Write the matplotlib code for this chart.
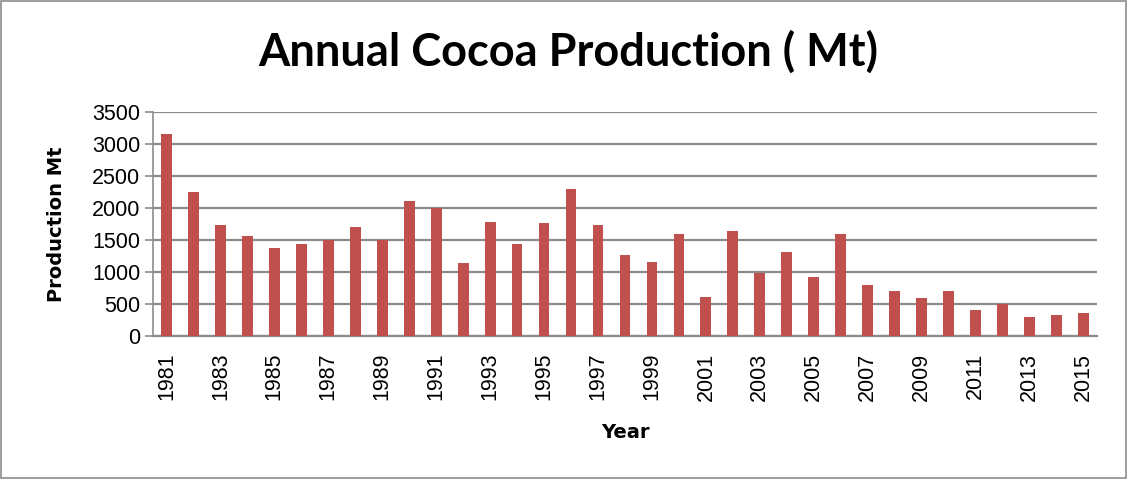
import matplotlib
matplotlib.use("Agg")
import matplotlib.pyplot as plt
from matplotlib.patches import Rectangle
import numpy as np

# Annual cocoa production, 1981-2015
years = list(range(1981, 2016))
production = [3150, 2250, 1730, 1560, 1375, 1430, 1500, 1710, 1500, 2110,
              2000, 1140, 1780, 1440, 1760, 2290, 1740, 1270, 1160, 1600,
              610, 1640, 990, 1320, 920, 1600, 800, 700, 600, 700,
              400, 500, 290, 325, 355]
y_ticks = [0, 500, 1000, 1500, 2000, 2500, 3000, 3500]

plt.rcParams["font.family"] = ["Lato", "DejaVu Sans"]

fig = plt.figure(figsize=(11.28, 4.79), dpi=100)
ax = fig.add_axes([0.1356, 0.2985, 0.8369, 0.4677])

x = np.arange(len(years))
ax.bar(x, production, width=0.4, color="#C0504D", zorder=3)

ax.set_xlim(-0.5, len(years) - 0.5)
ax.set_ylim(0, 3500)
ax.set_yticks(y_ticks)
ax.set_yticklabels([str(v) for v in y_ticks], fontsize=15.5, family="Liberation Sans")
ax.yaxis.grid(True, color="#8c8c8c", linewidth=1.6, zorder=0)

# label every other year
ax.set_xticks(x[::2])
ax.set_xticklabels([str(y) for y in years[::2]], rotation=90, fontsize=15.5,
                   family="Liberation Sans")
ax.tick_params(axis="x", length=0, pad=12)
ax.tick_params(axis="y", length=6, width=1.2, color="#8c8c8c", pad=3)

for side in ["top", "right"]:
    ax.spines[side].set_visible(False)
ax.spines["left"].set_color("#8c8c8c")
ax.spines["left"].set_linewidth(1.2)
ax.spines["bottom"].set_color("#8c8c8c")
ax.spines["bottom"].set_linewidth(1.6)

ax.set_ylabel("Production Mt", fontsize=14, fontweight="bold", family="DejaVu Sans",
              labelpad=19)
ax.set_xlabel("Year", fontsize=14, fontweight="bold", family="DejaVu Sans",
              labelpad=16)

fig.text(0.5035, 0.891, "Annual Cocoa Production ( Mt)", ha="center", va="center",
         fontsize=32.5, fontweight="bold")

# thin outer frame
fig.patches.append(Rectangle((0.001, 0.002), 0.997, 0.996, transform=fig.transFigure,
                             fill=False, edgecolor="#8c8c8c", linewidth=1.2))

fig.savefig("out.png", dpi=100)
